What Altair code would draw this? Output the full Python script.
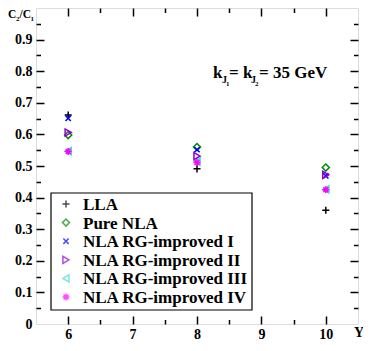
import altair as alt
import pandas as pd

# ---------------- data ----------------
series = ["LLA", "Pure NLA", "NLA RG-improved I", "NLA RG-improved II",
          "NLA RG-improved III", "NLA RG-improved IV"]
rapidity = [6, 8, 10]
lla = [0.661, 0.491, 0.360]
pure_nla = [0.598, 0.560, 0.495]
rg_1 = [0.651, 0.552, 0.469]
rg_2 = [0.606, 0.531, 0.472]
rg_3 = [0.547, 0.514, 0.426]
rg_4 = [0.546, 0.511, 0.425]
values = [lla, pure_nla, rg_1, rg_2, rg_3, rg_4]

colors = ["#000000", "#008b00", "#0000ff", "#9400d3", "#40e0d0", "#ff00ff"]
shapes = [
    "M-1,0L1,0M0,-1L0,1",
    "diamond",
    "M-0.75,-0.75L0.75,0.75M-0.75,0.75L0.75,-0.75",
    "triangle-right",
    "triangle-left",
    "M-1,0L1,0M0,-1L0,1M-0.7,-0.7L0.7,0.7M-0.7,0.7L0.7,-0.7",
]

x_labels = [6, 7, 8, 9, 10]
y_labels = [0, 0.1, 0.2, 0.3, 0.4, 0.5, 0.6, 0.7, 0.8, 0.9]
x_ticks = [6, 6.5, 7, 7.5, 8, 8.5, 9, 9.5, 10]
y_ticks = [0.05, 0.1, 0.15, 0.2, 0.25, 0.3, 0.35, 0.4, 0.45, 0.5, 0.55,
           0.6, 0.65, 0.7, 0.75, 0.8, 0.85, 0.9, 0.95]

note_text = ["k", "J", "1", "= k", "J", "2", "= 35 GeV"]
note_dx = [0, 9, 13, 16, 38, 42, 46]
note_dy = [0, 5, 8, 0, 5, 8, 0]
note_fs = [17, 10, 7, 17, 10, 7, 17]

ylab_text = ["C", "2", "/C", "1"]
ylab_dx = [-28, -20, -16.5, -5.5]
ylab_dy = [10, 13, 10, 13]
ylab_fs = [11.5, 7, 11.5, 7]

# ---------------- tables ----------------
rows = []
for s, vals in zip(series, values):
    for xv, yv in zip(rapidity, vals):
        rows.append({"Y": xv, "ratio": yv, "series": s})
df = pd.DataFrame(rows)
legend_df = pd.DataFrame({"series": series})

W = 322
H = 316
FONT = "Liberation Serif"

xscale = alt.Scale(domain=[5.5, 10.5], nice=False, zero=False)
yscale = alt.Scale(domain=[0, 1], nice=False, zero=False)
cscale = alt.Scale(domain=series, range=colors)
sscale = alt.Scale(domain=series, range=shapes)
# legend rows: evenly spaced entries inside the legend box (pixel range)
lscale = alt.Scale(type="point", domain=series, range=[196, 289], padding=0)

major_x = "abs(round(datum.value) - datum.value) < 0.01"
major_y = "abs(round(datum.value * 10) - datum.value * 10) < 0.01"


def tick_axis(orient, vals, test, off):
    return alt.Axis(orient=orient, offset=-off, values=vals, labels=False,
                    domain=False, grid=False, title=None,
                    tickColor="black", tickWidth=1.5,
                    tickSize={"condition": {"test": test, "value": 8}, "value": 4.5})


points = alt.Chart(df).mark_point(filled=False, strokeWidth=1.5, size=50, opacity=1).encode(
    x=alt.X("Y:Q", scale=xscale,
            axis=alt.Axis(values=x_labels, tickSize=0, domain=False, grid=False,
                          title=None, labelFont=FONT, labelFontSize=14,
                          labelFontWeight="bold", labelColor="black", labelPadding=3)),
    y=alt.Y("ratio:Q", scale=yscale,
            axis=alt.Axis(values=y_labels, tickSize=0, domain=False, grid=False,
                          title=None, labelFont=FONT, labelFontSize=14, format="~g",
                          labelFontWeight="bold", labelColor="black", labelPadding=4)),
    color=alt.Color("series:N", scale=cscale, legend=None),
    shape=alt.Shape("series:N", scale=sscale, legend=None),
)

ticks_a = alt.Chart(df).mark_point(opacity=0).encode(
    x=alt.X("Y:Q", scale=xscale, axis=tick_axis("top", x_ticks, major_x, H)),
    y=alt.Y("ratio:Q", scale=yscale, axis=tick_axis("right", y_ticks, major_y, W)),
)
ticks_b = alt.Chart(df).mark_point(opacity=0).encode(
    x=alt.X("Y:Q", scale=xscale, axis=tick_axis("bottom", x_ticks, major_x, H)),
    y=alt.Y("ratio:Q", scale=yscale, axis=tick_axis("left", y_ticks, major_y, W)),
)

# legend (box + symbols + labels)
legend_box = alt.Chart(pd.DataFrame({"a": [0]})).mark_rect(
    fill="white", stroke="black", strokeWidth=1.2).encode(
    x=alt.value(15), x2=alt.value(216), y=alt.value(185), y2=alt.value(302))
legend_sym = alt.Chart(legend_df).mark_point(filled=False, strokeWidth=1.5, size=50).encode(
    x=alt.value(30),
    y=alt.Y("series:N", scale=lscale, axis=None),
    color=alt.Color("series:N", scale=cscale, legend=None),
    shape=alt.Shape("series:N", scale=sscale, legend=None),
)
legend_lab = alt.Chart(legend_df).mark_text(
    align="left", baseline="middle", font=FONT, fontWeight="bold", fontSize=17,
    color="black", dy=1).encode(
    x=alt.value(47),
    y=alt.Y("series:N", scale=lscale, axis=None),
    text="series:N",
)

note_df = pd.DataFrame({"t": note_text, "dx": note_dx, "dy": note_dy, "fs": note_fs,
                        "x": [8.25] * len(note_text), "y": [0.78] * len(note_text)})
ylab_df = pd.DataFrame({"t": ylab_text, "dx": ylab_dx, "dy": ylab_dy, "fs": ylab_fs,
                        "x": [5.5] * len(ylab_text), "y": [1.0] * len(ylab_text)})


def text_layer(d):
    layers = []
    for _, r in d.iterrows():
        layers.append(
            alt.Chart(pd.DataFrame([r])).mark_text(
                align="left", baseline="alphabetic", font=FONT, fontWeight="bold",
                fontSize=float(r["fs"]), dx=float(r["dx"]),
                dy=float(r["dy"]), color="black").encode(
                x=alt.X("x:Q", scale=xscale, axis=None),
                y=alt.Y("y:Q", scale=yscale, axis=None),
                text="t:N")
        )
    return layers


notes = text_layer(note_df)
ylab = text_layer(ylab_df)
ylabel_x = alt.Chart(pd.DataFrame({"x": [10.5], "y": [0.0], "t": ["Y"]})).mark_text(
    align="center", baseline="alphabetic", font=FONT, fontWeight="bold", fontSize=14,
    dx=1, dy=13, color="black").encode(
    x=alt.X("x:Q", scale=xscale, axis=None),
    y=alt.Y("y:Q", scale=yscale, axis=None),
    text="t:N")

chart = alt.layer(points, ticks_a, ticks_b, legend_box, legend_sym, legend_lab,
                  *notes, *ylab, ylabel_x).resolve_axis(
    x="independent", y="independent"
).resolve_scale(y="independent").properties(
    width=W, height=H,
    autosize=alt.AutoSizeParams(type="none"),
    padding={"left": 28, "top": 0, "right": 5, "bottom": 19},
).configure_view(stroke="black", strokeWidth=1.5).configure(background="white")

chart.save("out.html", embed_options={"renderer": "svg", "actions": False})
